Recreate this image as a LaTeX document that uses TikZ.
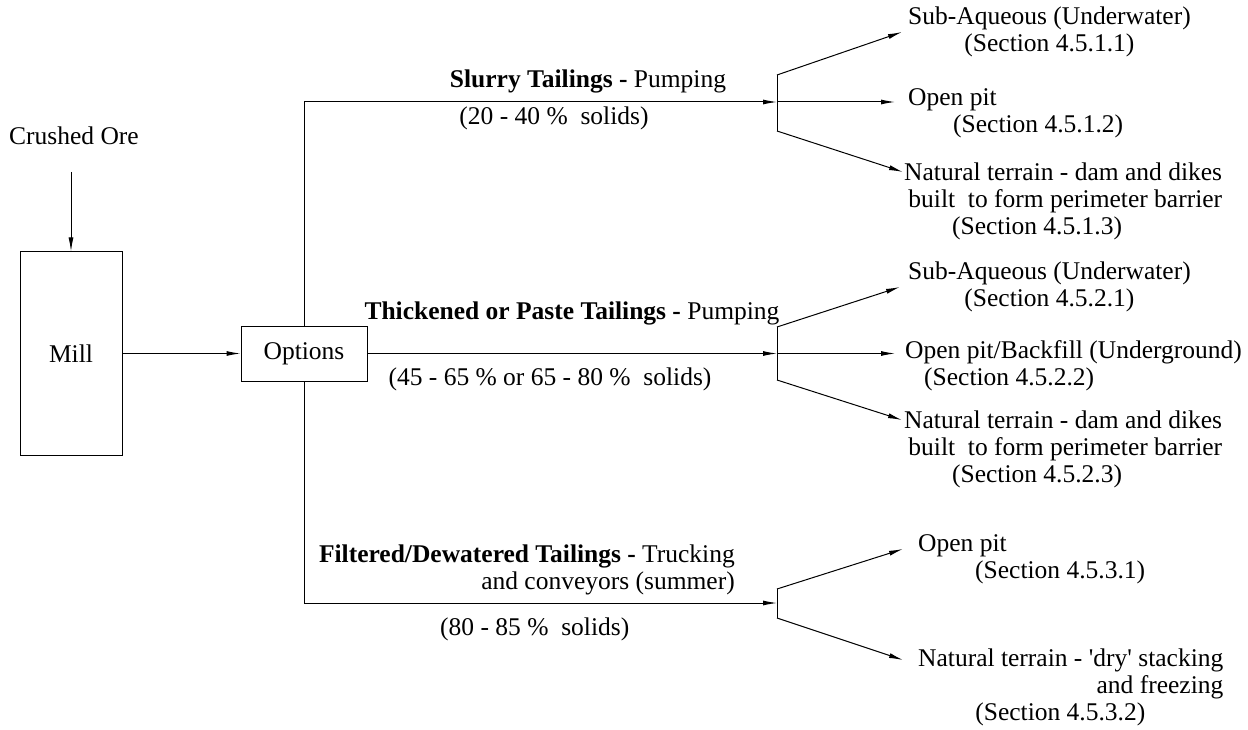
\documentclass[tikz,border=0pt]{standalone}
\usepackage{fontspec}
\setmainfont{Liberation Serif}[Ligatures=TeXOff]
\usetikzlibrary{arrows.meta}
\begin{document}
\begin{tikzpicture}[x=1pt,y=-1pt,
  every node/.style={font=\fontsize{25.5}{27}\selectfont, inner sep=0pt},
  box/.style={draw, line width=1pt},
  ln/.style={line width=1pt},
  arr/.style={line width=1pt,-{Latex[length=14pt,width=5pt]}},
]
\useasboundingbox (0,0) rectangle (1248,730);

% left part
\node (crushed) at (74,136) {Crushed Ore};
\coordinate (cin) at (71,172);
\node[box, minimum width=102pt, minimum height=203pt] (mill) at (71,353.5) {Mill};
\node[box, minimum width=126pt, minimum height=55pt] (options) at (304,353.5) {Options};
\draw[arr] (cin) -- (mill.north);
\draw[arr] (mill.east) -- (options.west);

% branch points
\coordinate (sb) at (777,102);
\coordinate (sbu) at (777,75);
\coordinate (sbl) at (777,131);
\coordinate (tb) at (777,353.5);
\coordinate (tbu) at (777,327);
\coordinate (tbl) at (777,380);
\coordinate (fb) at (777,603);
\coordinate (fbu) at (777,589);
\coordinate (fbl) at (777,618);

% trunks
\draw[arr] (options.north) |- (sb);
\draw[arr] (options.east) -- (tb);
\draw[arr] (options.south) |- (fb);

\draw[ln] (sbu) -- (sbl);
\draw[ln] (tbu) -- (tbl);
\draw[ln] (fbu) -- (fbl);

% labels on trunks
\node (sl) at (588,81) {\textbf{Slurry Tailings -} Pumping};
\node (sls) at (554,118) {(20 - 40 \%\ \ solids)};
\node (tl) at (572,313) {\textbf{Thickened or Paste Tailings -} Pumping};
\node (tls) at (550,379) {(45 - 65 \% or 65 - 80 \%\ \ solids)};
\node[anchor=east, align=right] (fl) at (735,570) {\textbf{Filtered/Dewatered Tailings -} Trucking\\and conveyors (summer)};
\node[anchor=west] (fls) at (440,629) {(80 - 85 \%\ \ solids)};

% destination texts
\node[anchor=west, align=center] (s1) at (908,32) {Sub-Aqueous (Underwater)\\(Section 4.5.1.1)};
\node[anchor=west, align=left] (s2) at (908,113.5) {Open pit\\\hspace*{45pt}(Section 4.5.1.2)};
\node[anchor=west, align=right] (s3) at (904,201) {Natural terrain - dam and dikes\\built\ \ to form perimeter barrier\\(Section 4.5.1.3)\hspace*{100pt}};

\node[anchor=west, align=center] (t1) at (908,287) {Sub-Aqueous (Underwater)\\(Section 4.5.2.1)};
\node[anchor=west, align=left] (t2) at (905,366) {Open pit/Backfill (Underground)\\\hspace*{19pt}(Section 4.5.2.2)};
\node[anchor=west, align=right] (t3) at (904,449) {Natural terrain - dam and dikes\\built\ \ to form perimeter barrier\\(Section 4.5.2.3)\hspace*{100pt}};

\node[anchor=west, align=left] (f1) at (918,559) {Open pit\\\hspace*{57pt}(Section 4.5.3.1)};
\node[anchor=west, align=right] (f2) at (918,687) {Natural terrain - 'dry' stacking\\and freezing\\(Section 4.5.3.2)\hspace*{78pt}};

% arrow end points
\coordinate (s1a) at (902,32);
\coordinate (s2a) at (895,102);
\coordinate (s3a) at (903,172);
\coordinate (t1a) at (900,287);
\coordinate (t2a) at (895,353.5);
\coordinate (t3a) at (902,420);
\coordinate (f1a) at (903,549);
\coordinate (f2a) at (903,660);

\draw[arr] (sbu) -- (s1a);
\draw[arr] (sb) -- (s2a);
\draw[arr] (sbl) -- (s3a);
\draw[arr] (tbu) -- (t1a);
\draw[arr] (tb) -- (t2a);
\draw[arr] (tbl) -- (t3a);
\draw[arr] (fbu) -- (f1a);
\draw[arr] (fbl) -- (f2a);
\end{tikzpicture}
\end{document}
